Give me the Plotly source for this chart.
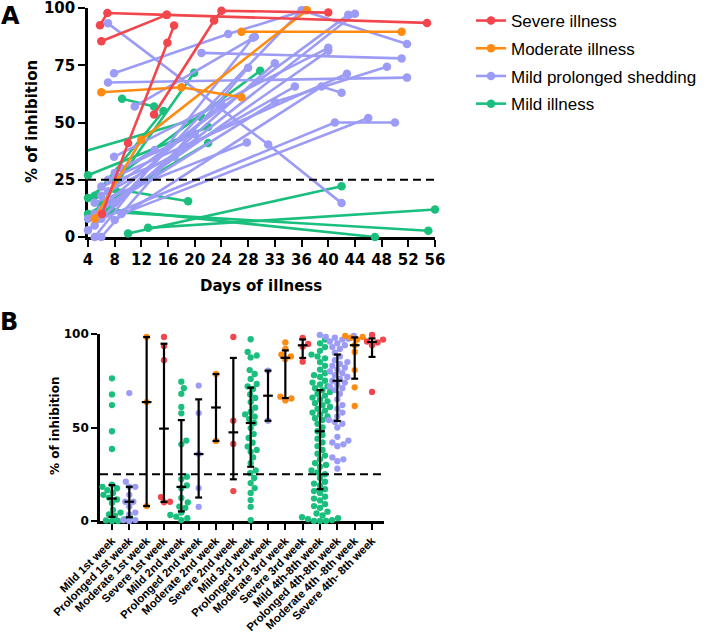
import numpy as np
import plotly.graph_objects as go

W, H = 708, 634

# ---------------- Panel A data (days of illness, % of inhibition) ----------------
severe_days = [[6, 15.8], [5.8, 6.9, 15.8, 54.8], [6.1, 10, 15.9, 16.9], [13.9, 22.9, 24, 40]]
severe_vals = [[85.5, 97], [92.5, 97.8, 97, 93.5], [10, 41, 84.8, 92.4], [53.5, 94.5, 98.8, 98]]

moderate_days = [[5, 12, 36.8], [6, 18, 27], [27, 51]]
moderate_vals = [[8, 42.5, 99], [63.2, 65.4, 61], [89.6, 89.6]]

prolonged_days = [[7, 31, 42], [7.9, 25, 36.5], [7, 51.8], [11, 29], [21, 51], [5, 28.7],
                  [6, 28], [4, 32], [6, 35], [8, 39, 42], [5, 32, 48.8], [7.9, 40], [6, 40],
                  [5, 36, 51.8], [7, 43], [8, 44], [6, 41, 50], [9, 46], [5, 27.8], [7, 42.8],
                  [9, 20], [4, 24], [6, 17], [8, 14]]
prolonged_vals = [[93.3, 40.4, 14.8], [71.5, 88.6, 99], [67.5, 69.6], [57, 87.4], [80.4, 78], [0, 87],
                  [0, 73.9], [3, 75.9], [18, 65.7], [7.4, 65.7, 63], [10, 59, 74.3], [35, 82.6], [12, 81.3],
                  [5, 99, 84.3], [20, 97], [15, 97.5], [8, 50, 50], [10, 52], [15, 41.3], [25, 71.3],
                  [30, 45], [8, 58], [22, 35], [28, 38]]

mild_days = [[3, 21], [4, 29.8], [4, 22], [9.1, 13.9], [6, 19.9], [8, 19], [10, 42], [13, 56],
             [7, 55], [7.5, 47], [5, 15.3], [4, 22]]
mild_vals = [[37, 52.3], [17, 72.6], [10, 41], [60.4, 57], [14, 71.7], [21, 15.6], [1.5, 22.2], [4, 12],
             [11, 2.7], [12, 0], [18, 55], [27, 48]]

day_ticks = [4, 8, 12, 16, 20, 24, 28, 32, 36, 40, 44, 48, 52, 56]
day_ticktext = ["4", "8", "12", "16", "20", "24", "28", "33", "36", "40", "44", "48", "52", "56"]
THRESHOLD = 25

# ---------------- Panel B data ----------------
categories = ["Mild 1st week", "Prolonged 1st week", "Moderate 1st week", "Severe 1st week",
              "Mild 2nd week", "Prolonged 2nd week", "Moderate 2nd week", "Severe 2nd week",
              "Mild 3rd week", "Prolonged 3rd week", "Moderate 3rd week", "Severe 3rd week",
              "Mild 4th-8th week", "Prolonged 4th-8th week", "Moderate 4th -8th week", "Severe 4th- 8th week"]

b_mild_1 = [0, 0, 0.3, 0.8, 1.5, 2, 2.8, 3.5, 4.5, 6, 9.6, 11.5, 12.5, 14, 15, 16.5, 17.5, 18.3, 19.5,
            38.5, 48, 62, 67.7, 76.3]
b_prol_1 = [0, 0.5, 0.5, 3.5, 4.5, 7.7, 10.3, 10.3, 14, 18.3, 18.3, 21, 68.4]
b_mod_1 = [8, 63.6, 98.4]
b_sev_1 = [10, 10.3, 12.8, 86, 93.6, 98.4]
b_mild_2 = [0.5, 1.5, 2.3, 3.2, 4.5, 7, 7.7, 10, 12.3, 17.5, 19, 22.4, 23.7, 41, 43, 57.6, 61, 68, 71, 74.5]
b_prol_2 = [7.5, 17.6, 35.8, 57.7, 72.4]
b_mod_2 = [42.8, 78.6]
b_sev_2 = [16, 41.2, 53.6, 98.4]
b_mild_3 = [0.5, 7.5, 11.2, 15, 17.6, 20.3, 23, 25.6, 27, 31, 34, 37, 38, 39.8, 41.9, 44.4, 46.5, 49.7,
            52.4, 54.5, 55.8, 57, 58.4, 60.6, 63.6, 65.8, 67.7, 70.6, 72, 73.3, 76, 78.6, 80.7, 87.5,
            88.5, 90.4, 97.2]
b_prol_3 = [53.6, 80.4]
b_mod_3 = [64.5, 65.5, 66.5, 86.5, 88, 89, 92, 95.5]
b_sev_3 = [85.2, 93.2, 94.7, 97.9]
b_mild_4 = [0, 0, 0, 0.5, 1, 1.5, 2, 3, 4, 5, 7, 8, 9, 11, 12, 13, 15, 16, 17, 19, 20, 21, 23, 25, 26,
            27, 29, 30, 31, 33, 35, 36, 38, 40, 42, 44, 46, 48, 50, 52, 54, 55, 56, 57, 58, 59, 60, 61,
            62, 63, 64, 65, 66, 67, 68, 69, 70, 71, 72, 73, 74, 75, 77, 78, 79, 81, 83, 85, 87, 88, 89,
            91, 93, 95, 97]
b_prol_4 = [28, 32, 33, 34, 40, 41, 42, 43, 45, 50, 52, 53, 54, 56, 58, 60, 62, 65, 68, 70, 71, 72, 73,
            74, 75, 76, 77, 78, 79, 80, 81, 82, 83, 84, 85, 86, 88, 90, 92, 93, 94, 95, 96, 97, 97.5,
            98, 98.5, 99, 99.5]
b_mod_4 = [61.5, 71.5, 80.7, 90.4, 94, 97, 98, 98.4, 99]
b_sev_4 = [69, 94, 95.5, 96, 97, 99.5]

b_values = [b_mild_1, b_prol_1, b_mod_1, b_sev_1, b_mild_2, b_prol_2, b_mod_2, b_sev_2,
            b_mild_3, b_prol_3, b_mod_3, b_sev_3, b_mild_4, b_prol_4, b_mod_4, b_sev_4]

# ---------------- styling ----------------
RED = "#F2454C"
ORANGE = "#FF8B12"
LAV = "#9C9CF6"
GREEN = "#1ABF7E"
cat_color = {"Mild": GREEN, "Prolonged": LAV, "Moderate": ORANGE, "Severe": RED}

BOLD = dict(family="DejaVu Sans", weight="bold", color="black")
ARIAL_BOLD = dict(family="Liberation Sans, Arial", weight="bold", color="black")

# layout geometry (pixels)
AX_L, AX_R, AY_T, AY_B = 88, 435, 8, 237
BX_L, BX_R, BY_T, BY_B = 100, 384, 334, 521


def px_x(p):
    return p / W


def px_y(p):
    return 1 - p / H


fig = go.Figure()

groups = [
    ("Mild illness", GREEN, mild_days, mild_vals, 4),
    ("Mild prolonged shedding", LAV, prolonged_days, prolonged_vals, 3),
    ("Moderate illness", ORANGE, moderate_days, moderate_vals, 2),
    ("Severe illness", RED, severe_days, severe_vals, 1),
]
for name, col, dlist, vlist, rank in groups:
    for i, (d, v) in enumerate(zip(dlist, vlist)):
        clip = min(d) < day_ticks[0]
        fig.add_trace(go.Scatter(
            x=d, y=v, mode="lines+markers", xaxis="x", yaxis="y",
            line=dict(color=col, width=2.6),
            marker=dict(color=col, size=8.5),
            name=name, legendgroup=name, showlegend=(i == 0), legendrank=rank,
            cliponaxis=clip, hoverinfo="skip"))


# ---------------- Panel B swarm ----------------
def swarm(vals, diam=6.0, xs=(BX_R - BX_L) / 16.38, ys=(BY_B - BY_T) / 100.0):
    placed = []
    res = [0.0] * len(vals)
    order = sorted(range(len(vals)), key=lambda k: vals[k])
    offsets = [0.0]
    for k in range(1, 80):
        offsets += [k * 0.5, -k * 0.5]
    for i in order:
        y = vals[i] * ys
        for off in offsets:
            if all((off - px) ** 2 + (y - py) ** 2 >= diam ** 2 for px, py in placed):
                break
        placed.append((off, y))
        res[i] = off / xs
    return res


for ci, (cat, vals) in enumerate(zip(categories, b_values)):
    col = cat_color[cat.split()[0]]
    offs = swarm(vals)
    fig.add_trace(go.Scatter(
        x=[ci + o for o in offs], y=vals, mode="markers", xaxis="x2", yaxis="y2",
        marker=dict(color=col, size=6.3), showlegend=False, cliponaxis=False, hoverinfo="skip"))

# median + interquartile range bars
ex, ey = [], []
for ci, vals in enumerate(b_values):
    q1, med, q3 = np.percentile(vals, [25, 50, 75], method="weibull")
    cw, mw = 0.2, 0.28
    ex += [ci, ci, None, ci - cw, ci + cw, None, ci - cw, ci + cw, None, ci - mw, ci + mw, None]
    ey += [q1, q3, None, q1, q1, None, q3, q3, None, med, med, None]
fig.add_trace(go.Scatter(x=ex, y=ey, mode="lines", xaxis="x2", yaxis="y2",
                         line=dict(color="black", width=2.2), showlegend=False,
                         cliponaxis=False, hoverinfo="skip"))

axis_common = dict(showline=True, linecolor="black", linewidth=2.6, ticks="outside",
                   tickcolor="black", tickwidth=2.4, showgrid=False, zeroline=False,
                   layer="below traces", fixedrange=True, automargin=False,
                   ticklabeloverflow="allow")

fig.update_layout(
    width=W, height=H, margin=dict(l=0, r=0, t=0, b=0, autoexpand=False),
    paper_bgcolor="white", plot_bgcolor="white",
    xaxis=dict(domain=[px_x(AX_L), px_x(AX_R)], range=[4, 56], anchor="y",
               tickvals=day_ticks, ticktext=day_ticktext, ticklen=7,
               tickfont=dict(size=15, **BOLD), **axis_common),
    yaxis=dict(domain=[px_y(AY_B), px_y(AY_T)], range=[0, 100], anchor="x",
               tickvals=[0, 25, 50, 75, 100], ticklen=7,
               tickfont=dict(size=15, **BOLD), **axis_common),
    xaxis2=dict(domain=[px_x(BX_L), px_x(BX_R)], range=[-0.69, 15.69], anchor="y2",
                tickvals=list(range(len(categories))), ticktext=categories, tickangle=-45,
                ticklen=6, tickfont=dict(size=11.3, **ARIAL_BOLD), **axis_common),
    yaxis2=dict(domain=[px_y(BY_B), px_y(BY_T)], range=[0, 100], anchor="x2",
                tickvals=[0, 50, 100], ticklen=6,
                tickfont=dict(size=12, **BOLD), **axis_common),
    legend=dict(x=px_x(471), y=px_y(3), xanchor="left", yanchor="top",
                font=dict(family="Liberation Sans, Arial", size=17, color="black"),
                traceorder="grouped", tracegroupgap=2.6, bgcolor="rgba(0,0,0,0)"),
    shapes=[
        dict(type="line", xref="x", yref="y", x0=4, x1=56, y0=THRESHOLD, y1=THRESHOLD,
             line=dict(color="black", width=2.2, dash="8px,5px"), layer="above"),
        dict(type="line", xref="x2", yref="y2", x0=-0.69, x1=15.69, y0=THRESHOLD, y1=THRESHOLD,
             line=dict(color="black", width=2.2, dash="8px,5px"), layer="above"),
    ],
    annotations=[
        dict(text="A", x=px_x(10), y=px_y(16), xref="paper", yref="paper", showarrow=False,
             xanchor="center", yanchor="middle", font=dict(size=24, **BOLD)),
        dict(text="B", x=px_x(9), y=px_y(322), xref="paper", yref="paper", showarrow=False,
             xanchor="center", yanchor="middle", font=dict(size=24, **BOLD)),
        dict(text="% of inhibition", x=px_x(32), y=px_y(122), xref="paper", yref="paper",
             showarrow=False, textangle=-90, xanchor="center", yanchor="middle",
             font=dict(size=15, **BOLD)),
        dict(text="Days of illness", x=px_x(261), y=px_y(286), xref="paper", yref="paper",
             showarrow=False, xanchor="center", yanchor="middle", font=dict(size=15, **BOLD)),
        dict(text="% of inhibition", x=px_x(55), y=px_y(426), xref="paper", yref="paper",
             showarrow=False, textangle=-90, xanchor="center", yanchor="middle",
             font=dict(size=12, **BOLD)),
    ],
)

fig.write_html("out.html", config={"displayModeBar": False},
               post_script="document.body.style.margin='0';")
